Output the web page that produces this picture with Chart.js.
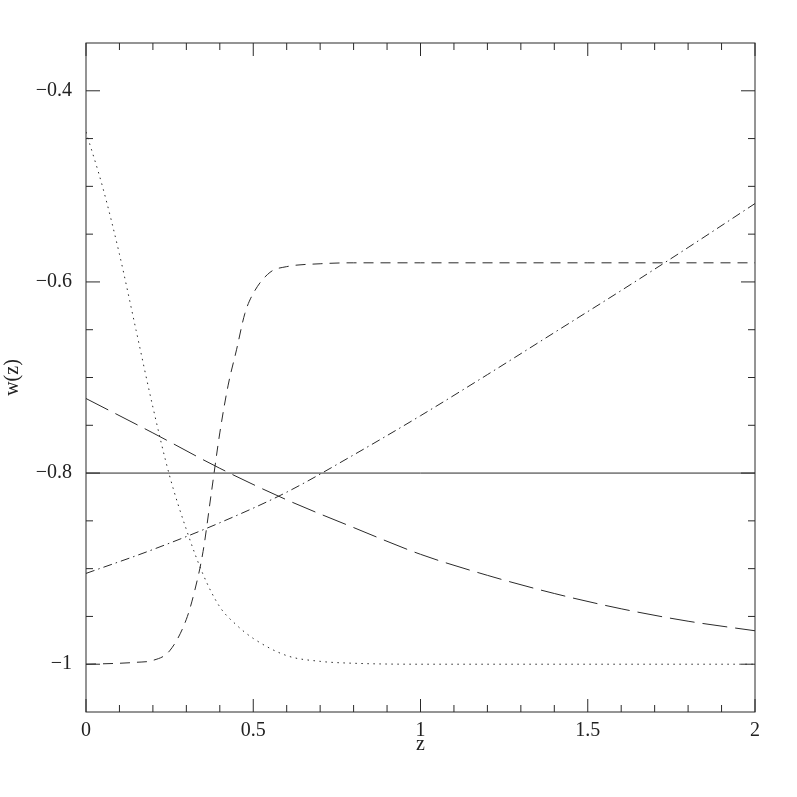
<!DOCTYPE html>
<html><head><meta charset="utf-8">
<script src="https://cdn.jsdelivr.net/npm/chart.js@4.4.0/dist/chart.umd.min.js"></script>
<style>html,body{margin:0;padding:0;background:#fff;} canvas{display:block;}</style>
</head><body>
<canvas id="c" width="797" height="797"></canvas>
<script>
// ---- data ----
const zSolid = [0, 2];
const wSolid = [-0.8, -0.8];

const zDotted = [0, 0.05, 0.1, 0.15, 0.2, 0.25, 0.3, 0.35, 0.4, 0.45, 0.5, 0.6, 0.7, 0.8, 1.0, 1.5, 2.0];
const wDotted = [-0.443, -0.501, -0.571, -0.651, -0.731, -0.803, -0.859, -0.906, -0.940, -0.959, -0.973, -0.991, -0.997, -0.999, -1.0, -1.0, -1.0];

const zDashed = [0, 0.1, 0.15, 0.2, 0.25, 0.3, 0.325, 0.35, 0.375, 0.4, 0.425, 0.45, 0.475, 0.5, 0.55, 0.6, 0.7, 0.8, 1.0, 1.5, 2.0];
const wDashed = [-1.0, -0.999, -0.998, -0.996, -0.986, -0.953, -0.923, -0.882, -0.820, -0.758, -0.708, -0.671, -0.633, -0.612, -0.590, -0.584, -0.581, -0.580, -0.580, -0.580, -0.580];

const zLongDash = [0, 0.2, 0.4, 0.6, 0.8, 1.0, 1.2, 1.4, 1.6, 1.8, 2.0];
const wLongDash = [-0.722, -0.758, -0.795, -0.828, -0.857, -0.885, -0.907, -0.926, -0.942, -0.955, -0.965];

const zDashDot = [0, 0.2, 0.4, 0.6, 0.8, 1.0, 1.2, 1.4, 1.6, 1.8, 2.0];
const wDashDot = [-0.905, -0.880, -0.852, -0.820, -0.781, -0.740, -0.697, -0.653, -0.609, -0.564, -0.518];

const xTickValues = [0, 0.5, 1, 1.5, 2];
const yTickValues = [-1, -0.8, -0.6, -0.4];
const xTitle = 'z';
const yTitle = 'w(z)';

function pts(xs, ys) { return xs.map((x, i) => ({ x: x, y: ys[i] })); }
function fmt(v) {
  const s = String(Math.round(v * 100) / 100);
  return s.replace('-', '\u2212');
}

const LINE = '#2a2a2a';
const FONT = { family: '"Liberation Serif", "DejaVu Serif", serif', size: 20 };

const frameTicks = {
  id: 'frameTicks',
  afterDatasetsDraw(chart) {
    const { ctx, chartArea: a, scales: { x, y } } = chart;
    ctx.save();
    ctx.strokeStyle = LINE;
    ctx.lineWidth = 1;
    ctx.strokeRect(a.left, a.top, a.right - a.left, a.bottom - a.top);
    ctx.beginPath();
    for (let i = 0; i <= 20; i++) {
      const v = i * 0.1;
      const px = x.getPixelForValue(v);
      const L = (i % 5 === 0) ? 13 : 7;
      ctx.moveTo(px, a.bottom); ctx.lineTo(px, a.bottom - L);
      ctx.moveTo(px, a.top); ctx.lineTo(px, a.top + L);
    }
    for (let i = 0; i <= 12; i++) {
      const v = -1 + i * 0.05;
      const py = y.getPixelForValue(v);
      const L = (i % 4 === 0) ? 14 : 7;
      ctx.moveTo(a.left, py); ctx.lineTo(a.left + L, py);
      ctx.moveTo(a.right, py); ctx.lineTo(a.right - L, py);
    }
    ctx.stroke();
    ctx.restore();
  }
};

const common = { borderColor: LINE, borderWidth: 1, pointRadius: 0, fill: false, cubicInterpolationMode: 'monotone' };

new Chart(document.getElementById('c').getContext('2d'), {
  type: 'line',
  data: {
    datasets: [
      Object.assign({ label: 'solid', data: pts(zSolid, wSolid) }, common),
      Object.assign({ label: 'dotted', data: pts(zDotted, wDotted), borderDash: [1.5, 4.5] }, common),
      Object.assign({ label: 'dashed', data: pts(zDashed, wDashed), borderDash: [10, 7] }, common),
      Object.assign({ label: 'longdash', data: pts(zLongDash, wLongDash), borderDash: [25, 8] }, common),
      Object.assign({ label: 'dashdot', data: pts(zDashDot, wDashDot), borderDash: [9, 4, 1.5, 4] }, common)
    ]
  },
  options: {
    responsive: false,
    animation: false,
    devicePixelRatio: 1,
    layout: { padding: { left: 0, top: 43, right: 42, bottom: 0 } },
    plugins: { legend: { display: false }, tooltip: { enabled: false } },
    scales: {
      x: {
        type: 'linear', min: 0, max: 2,
        afterFit(s) { s.height = 85; },
        afterBuildTicks(s) { s.ticks = xTickValues.map(v => ({ value: v })); },
        grid: { display: false, drawTicks: false },
        border: { display: false },
        ticks: { padding: 7, font: FONT, color: '#222', maxRotation: 0, autoSkip: false, callback: v => fmt(v) },
        title: { display: true, text: xTitle, font: FONT, color: '#222', padding: { top: 0, bottom: 40 } }
      },
      y: {
        type: 'linear', min: -1.05, max: -0.35,
        afterFit(s) { s.width = 86; },
        afterBuildTicks(s) { s.ticks = yTickValues.map(v => ({ value: v })); },
        grid: { display: false, drawTicks: false },
        border: { display: false },
        ticks: { padding: 14, font: FONT, color: '#222', autoSkip: false, callback: v => fmt(v) },
        title: { display: true, text: yTitle, font: FONT, color: '#222', padding: { top: 1, bottom: 0 } }
      }
    }
  },
  plugins: [frameTicks]
});
</script>
</body></html>
